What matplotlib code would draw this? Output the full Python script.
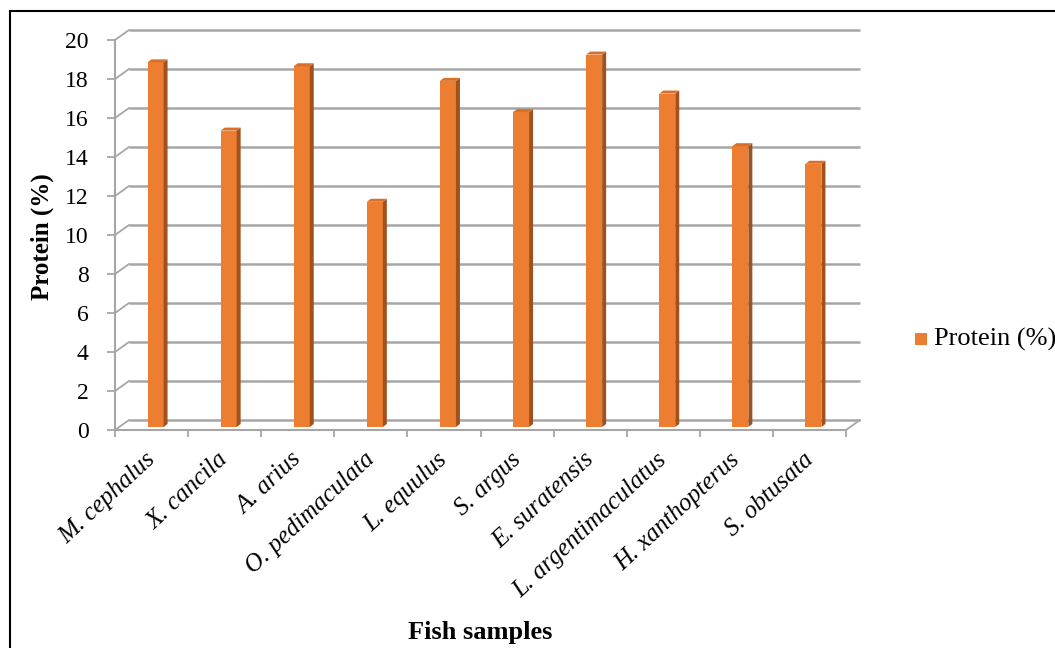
import numpy as np
import matplotlib
matplotlib.use('Agg')
from matplotlib import pyplot as plt
from matplotlib.patches import Polygon, Rectangle
from matplotlib.transforms import ScaledTranslation

species = ['M. cephalus', 'X. cancila', 'A. arius', 'O. pedimaculata', 'L. equulus',
           'S. argus', 'E. suratensis', 'L. argentimaculatus', 'H. xanthopterus', 'S. obtusata']
protein = [18.7, 15.2, 18.5, 11.55, 17.75, 16.15, 19.1, 17.1, 14.4, 13.5]
y_ticks = [0, 2, 4, 6, 8, 10, 12, 14, 16, 18, 20]

FRONT = '#ED7D31'
SIDE = '#A0521E'
TOP = '#D96F28'
GRID = '#A6A6A6'

plt.rcParams['font.family'] = ['Liberation Serif', 'DejaVu Serif']

fig = plt.figure(figsize=(10.55, 6.48), dpi=100)
W, H = 1055, 648
ax = fig.add_axes([115 / W, 218 / H, 731 / W, 390 / H])
ax.set_xlim(0, 10)
ax.set_ylim(0, 20)

# pixel -> data conversions for the fake 3d depth
px_x = 10 / 731
px_y = 20 / 390
wall_dx, wall_dy = 14 * px_x, 10 * px_y
bar_dx, bar_dy = 4 * px_x, 3 * px_y

# back wall gridlines and the left wall diagonals
for v in y_ticks:
    ax.plot([wall_dx, 10 + wall_dx], [v + wall_dy, v + wall_dy], color=GRID, lw=1.8,
            clip_on=False, zorder=1, solid_capstyle='butt')
    ax.plot([0, wall_dx], [v, v + wall_dy], color=GRID, lw=1.3, clip_on=False, zorder=1)
# floor right edge
ax.plot([10, 10 + wall_dx], [0, wall_dy], color=GRID, lw=1.3, clip_on=False, zorder=1)

# bars: front face, side face, top face
x = np.arange(len(species)) + 0.5
width = 16 * px_x
shift = 4 * px_x
base = bar_dy
ax.bar(x + shift, protein, width=width, bottom=base, color=FRONT, zorder=3)
for xi, v in zip(x + shift, protein):
    r = xi + width / 2
    l = xi - width / 2
    t = base + v
    ax.add_patch(Polygon([(r, base), (r + bar_dx, base + bar_dy), (r + bar_dx, t + bar_dy), (r, t)],
                         closed=True, facecolor=SIDE, edgecolor='none', zorder=3))
    ax.add_patch(Polygon([(l, t), (r, t), (r + bar_dx, t + bar_dy), (l + bar_dx, t + bar_dy)],
                         closed=True, facecolor=TOP, edgecolor='none', zorder=3))

for s in ['top', 'right']:
    ax.spines[s].set_visible(False)
for s in ['left', 'bottom']:
    ax.spines[s].set_color(GRID)
    ax.spines[s].set_linewidth(1.5)

ax.set_yticks(y_ticks)
ax.tick_params(axis='y', length=6, width=1.3, color=GRID, pad=13, labelsize=17)
ax.set_xticks(np.arange(0, 11))
ax.set_xticklabels([])
ax.set_xticks(x, minor=True)
ax.set_xticklabels(species, minor=True, rotation=43, ha='right', rotation_mode='anchor',
                   fontsize=18, style='italic')
ax.tick_params(axis='x', which='major', length=5, width=1.3, color=GRID)
ax.tick_params(axis='x', which='minor', length=0, pad=17)
nudge = ScaledTranslation(-7 / 100, 5 / 100, fig.dpi_scale_trans)
for lbl in ax.get_xticklabels(minor=True):
    lbl.set_transform(lbl.get_transform() + nudge)

fig.text(480 / W, 1 - 633 / H, 'Fish samples', ha='center', va='center', fontsize=19, fontweight='bold')
fig.text(42 / W, 1 - 237 / H, 'Protein (%)', ha='center', va='center', rotation=90,
         fontsize=18, fontweight='bold')

# legend
fig.patches.append(Rectangle((915 / W, 1 - 345 / H), 12 / W, 12 / H, transform=fig.transFigure,
                             facecolor=FRONT, edgecolor='none'))
fig.text(934 / W, 1 - 339 / H, 'Protein (%)', ha='left', va='center', fontsize=19)

# outer chart border
fig.patches.append(Rectangle((10 / W, -0.1), 1.2, 1 - 11 / H + 0.1, transform=fig.transFigure,
                             facecolor='none', edgecolor='black', lw=1.5))

fig.savefig('out.png', dpi=100)
